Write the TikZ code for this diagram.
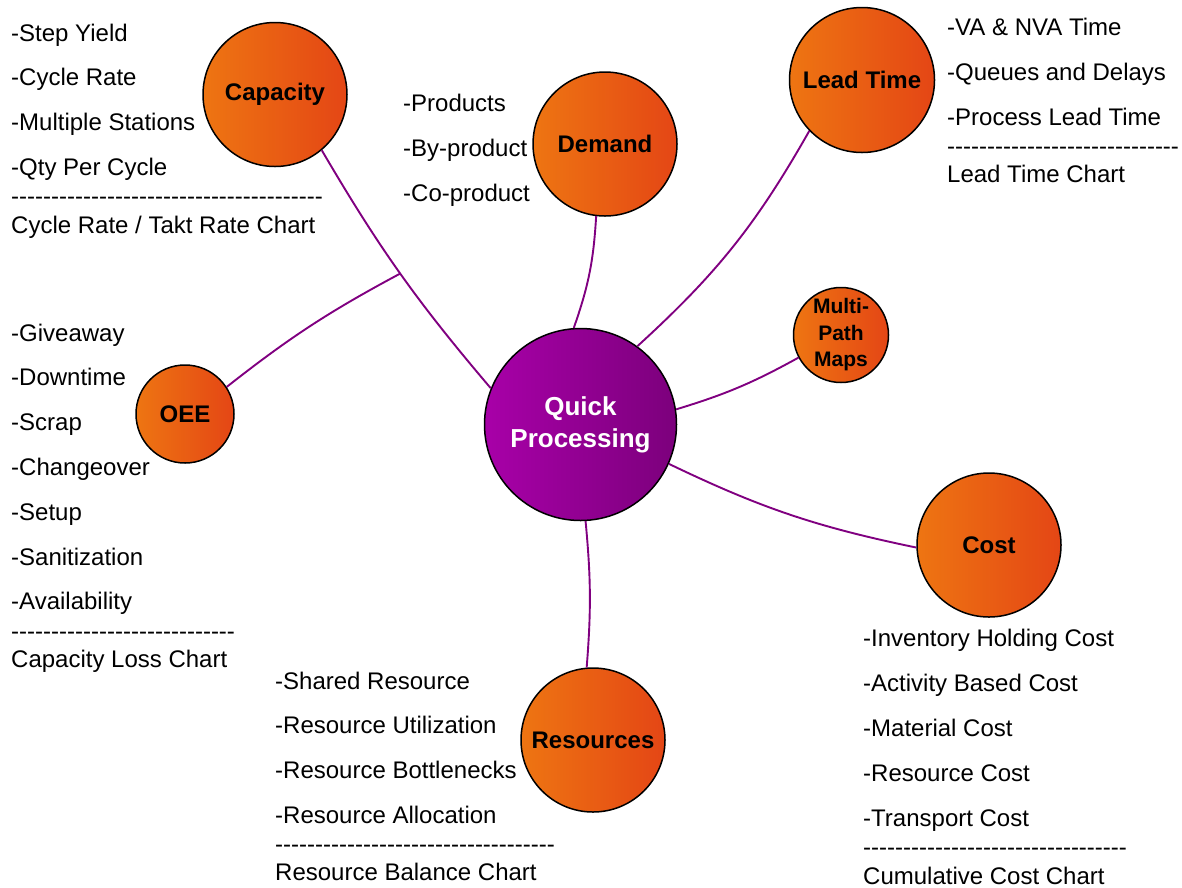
\documentclass[tikz,border=0pt]{standalone}
\usepackage{fontspec}
\setmainfont{Liberation Sans}
\definecolor{orL}{HTML}{EE7512}
\definecolor{orD}{HTML}{E44615}
\definecolor{puL}{HTML}{A800A8}
\definecolor{puD}{HTML}{7C007C}
\definecolor{linkc}{HTML}{800080}
\newcommand\dashrow[1]{\foreach \k in {1,...,#1}{-\kern0pt}}
\begin{document}
\begin{tikzpicture}[x=1pt,y=-1pt,
  topic/.style={circle, draw=black, line width=1.5pt, left color=orL, right color=orD,
    font=\bfseries\fontsize{24}{26}\selectfont, inner sep=0pt, align=center},
  hub/.style={circle, draw=black, line width=1.5pt, left color=puL, right color=puD,
    text=white, font=\bfseries\fontsize{26}{32}\selectfont, inner sep=0pt, align=center,
    minimum size=192pt},
  item/.style={anchor=base west, inner sep=0pt, font=\fontsize{24}{28}\selectfont},
  link/.style={draw=linkc, line width=1.9pt}]
\useasboundingbox (0,0) rectangle (1182,887);

% circles
\node[hub] (qp) at (580.5,424.5) {Quick\\Processing};
\node[topic, minimum size=144pt] (cap) at (275,94.5) {Capacity};
\node[topic, minimum size=144pt] (dem) at (605,144) {Demand};
\node[topic, minimum size=145pt] (lt) at (862,80) {Lead Time};
\node[topic, minimum size=95pt, font=\bfseries\fontsize{21}{26.5}\selectfont] (mp) at (841,335) {Multi-\\Path\\Maps};
\node[topic, minimum size=98pt] (oee) at (185,414) {OEE};
\node[topic, minimum size=144pt] (cost) at (989,545) {Cost};
\node[topic, minimum size=144pt] (res) at (593,740) {Resources};

% connectors
\draw[link] (cap.-50) to[bend right=5] coordinate[pos=0.5] (j) (qp.158);
\draw[link] (oee.33) to[bend left=5] (j);
\draw[link] (dem.-97) to[bend left=8] (qp.94);
\draw[link] (lt.-136) to[bend left=9] (qp.54);
\draw[link] (mp.-152) to[bend left=6] (qp.9);
\draw[link] (cost.-178) to[bend left=7] (qp.-24);
\draw[link] (res.95) to[bend right=5] (qp.-87);

% Capacity list
\foreach \t [count=\i] in {Step Yield, Cycle Rate, Multiple Stations, Qty Per Cycle}
  \node[item] (capi\i) at (11,{41+(\i-1)*44.7}) {-\t};
\node[item] (capd) at (11,204) {\dashrow{39}};
\node[item] (capc) at (11,233) {Cycle Rate / Takt Rate Chart};

% Demand list
\foreach \t [count=\i] in {Products, By-product, Co-product}
  \node[item] (demi\i) at (403,{111+(\i-1)*45}) {-\t};

% Lead time list
\foreach \t [count=\i] in {VA \& NVA Time, Queues and Delays, Process Lead Time}
  \node[item] (lti\i) at (947,{35+(\i-1)*45}) {-\t};
\node[item] (ltd) at (947,154) {\dashrow{29}};
\node[item] (ltc) at (947,182) {Lead Time Chart};

% OEE list
\foreach \t [count=\i] in {Giveaway, Downtime, Scrap, Changeover, Setup, Sanitization, Availability}
  \node[item] (oeei\i) at (11,{341+(\i-1)*44.83}) {-\t};
\node[item] (oeed) at (11,639) {\dashrow{28}};
\node[item] (oeec) at (11,667) {Capacity Loss Chart};

% Resources list
\foreach \t [count=\i] in {Shared Resource, Resource Utilization, Resource Bottlenecks, Resource Allocation}
  \node[item] (resi\i) at (275,{689+(\i-1)*44.7}) {-\t};
\node[item] (resd) at (275,852) {\dashrow{35}};
\node[item] (resc) at (275,880) {Resource Balance Chart};

% Cost list
\foreach \t [count=\i] in {Inventory Holding Cost, Activity Based Cost, Material Cost, Resource Cost, Transport Cost}
  \node[item] (costi\i) at (863,{646+(\i-1)*45}) {-\t};
\node[item] (costd) at (863,855) {\dashrow{33}};
\node[item] (costc) at (863,884) {Cumulative Cost Chart};
\end{tikzpicture}
\end{document}
